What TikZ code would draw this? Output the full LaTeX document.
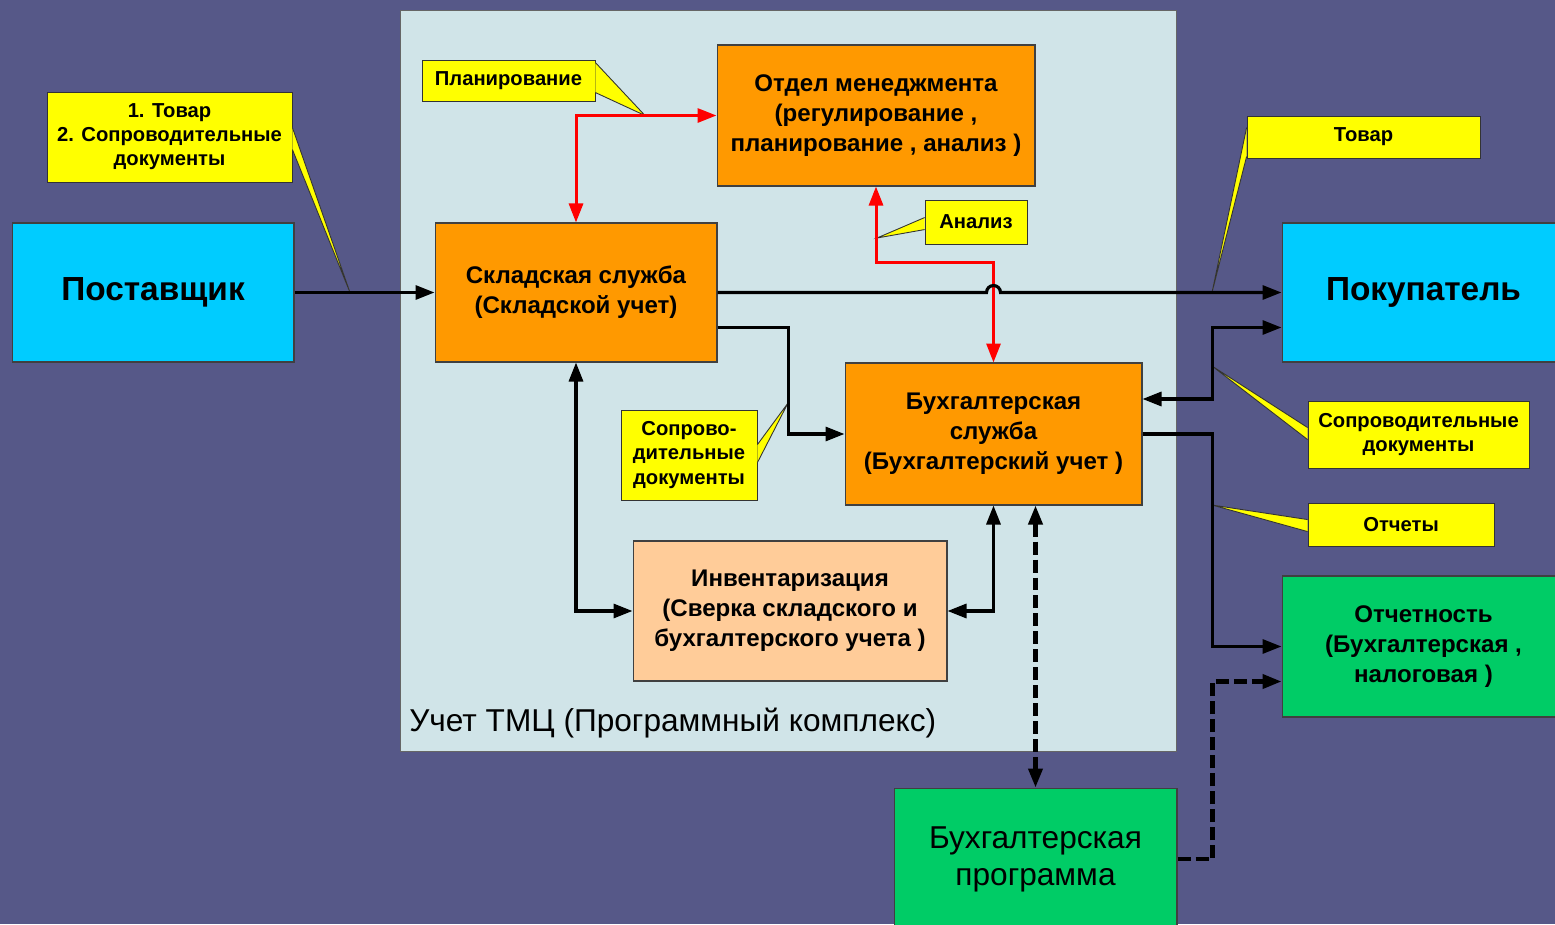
\documentclass[tikz,border=0pt]{standalone}
\usepackage{fontspec}
\setmainfont{Liberation Sans}
\usetikzlibrary{arrows.meta}

\definecolor{slideblue}{RGB}{86,88,136}
\definecolor{panelblue}{RGB}{208,228,232}
\definecolor{boxcyan}{RGB}{0,204,255}
\definecolor{boxorange}{RGB}{255,153,0}
\definecolor{boxpeach}{RGB}{255,204,153}
\definecolor{boxgreen}{RGB}{0,204,102}
\definecolor{noteyellow}{RGB}{255,255,0}
\definecolor{linkred}{RGB}{255,0,0}

\begin{document}
\begin{tikzpicture}[x=0.02cm,y=0.02cm,
    >={Triangle[length=0.38cm,width=0.28cm]},
    box/.style={draw=black!75,line width=0.6pt,align=center,inner sep=0pt,
      font=\bfseries\fontsize{13.7}{17}\selectfont},
    bigbox/.style={box,font=\bfseries\fontsize{19}{22}\selectfont},
    progbox/.style={box,font=\fontsize{18}{21}\selectfont},
    note/.style={draw=black!80,fill=noteyellow,line width=0.5pt,align=center,inner sep=0pt,
      font=\bfseries\fontsize{11.5}{13.7}\selectfont},
    wedge/.style={fill=noteyellow,draw=black!80,line width=0.5pt},
    flow/.style={line width=1.8pt},
    redflow/.style={line width=1.7pt,draw=linkred},
    dashflow/.style={line width=2.3pt,dash pattern=on 0.26cm off 0.1cm}]

        % Slide background and program panel
        \fill[slideblue] (0,0) rectangle (1555,-924);
        \useasboundingbox (0,0) rectangle (1555,-924);
        \node[draw=black!60,fill=panelblue,line width=0.6pt,minimum width=15.54cm,minimum height=14.84cm,inner sep=0pt] (panel) at (788.5,-381) {};
        \node[anchor=base west,inner sep=0pt,font=\fontsize{18}{21}\selectfont] (uchet) at (409,-731) {Учет ТМЦ (Программный комплекс)};

        % Main boxes
        \node[bigbox,fill=boxcyan,minimum width=5.64cm,minimum height=2.78cm] (post) at (153,-292.5) {Поставщик};
        \node[bigbox,fill=boxcyan,minimum width=5.66cm,minimum height=2.78cm] (pok) at (1423.5,-292.5) {Покупатель};
        \node[box,fill=boxorange,minimum width=5.64cm,minimum height=2.78cm] (sklad) at (576,-292.5) {Складская служба\\(Складской учет)};
        \node[box,fill=boxorange,minimum width=6.36cm,minimum height=2.82cm] (otdel) at (876,-115.5) {Отдел менеджмента\\(регулирование ,\\планирование , анализ )};
        \node[box,fill=boxorange,minimum width=5.94cm,minimum height=2.84cm] (buh) at (993.5,-434) {Бухгалтерская\\служба\\(Бухгалтерский учет )};
        \node[box,fill=boxpeach,minimum width=6.28cm,minimum height=2.8cm] (inv) at (790,-611) {Инвентаризация\\(Сверка складского и\\бухгалтерского учета )};
        \node[box,fill=boxgreen,minimum width=5.66cm,minimum height=2.82cm] (otch) at (1423.5,-646.5) {Отчетность\\(Бухгалтерская ,\\налоговая )};
        \node[progbox,fill=boxgreen,minimum width=5.66cm,minimum height=2.84cm] (prog) at (1035.5,-859) {Бухгалтерская\\программа};

        % Yellow notes
        \node[note,minimum width=4.9cm,minimum height=1.8cm] (tovar1) at (169.5,-137) {1. Товар\\2. Сопроводительные\\документы};
        \node[note,minimum width=3.46cm,minimum height=0.82cm] (plan) at (508.5,-80.5) {Планирование};
        \node[note,minimum width=2.04cm,minimum height=0.88cm] (analiz) at (976,-222) {Анализ};
        \node[note,minimum width=4.66cm,minimum height=0.84cm] (tovar2) at (1363.5,-137) {Товар};
        \node[note,minimum width=2.72cm,minimum height=1.8cm] (sopr1) at (689,-455) {Сопрово-\\дительные\\документы};
        \node[note,minimum width=4.42cm,minimum height=1.34cm] (sopr2) at (1418.5,-434.5) {Сопроводительные\\документы};
        \node[note,minimum width=3.72cm,minimum height=0.86cm] (otchety) at (1401,-524.5) {Отчеты};

        % Pointer tips of the notes
        \coordinate (tip1) at (350,-292.5);
        \coordinate (tip2) at (645,-115.5);
        \coordinate (tip3) at (877,-238);
        \coordinate (tip4) at (1212,-292.5);
        \coordinate (tip5) at (788,-403);
        \coordinate (tip6) at (1212,-366);
        \coordinate (tip7) at (1212,-505);

        % Note pointers
        \filldraw[wedge] ([yshift=-0.72cm]tovar1.north east) -- (tip1) -- ([yshift=-1.16cm]tovar1.north east);
        \filldraw[wedge] ([yshift=-0.06cm]plan.north east) -- (tip2) -- ([yshift=-0.66cm]plan.north east);
        \filldraw[wedge] ([yshift=-0.36cm]analiz.north west) -- (tip3) -- ([yshift=-0.6cm]analiz.north west);
        \filldraw[wedge] ([yshift=-0.24cm]tovar2.north west) -- (tip4) -- ([yshift=-0.82cm]tovar2.north west);
        \filldraw[wedge] ([yshift=-0.7cm]sopr1.north east) -- (tip5) -- ([yshift=-1.06cm]sopr1.north east);
        \filldraw[wedge] ([yshift=-0.54cm]sopr2.north west) -- (tip6) -- ([yshift=-0.78cm]sopr2.north west);
        \filldraw[wedge] ([yshift=-0.34cm]otchety.north west) -- (tip7) -- ([yshift=-0.58cm]otchety.north west);

        % Red links of the management department
        \draw[redflow,<->] (otdel.west) -| (sklad.north);
        \draw[redflow,<->] (otdel.south) -- ++(0,-76) -| (buh.north);

        % Goods flow with a hop over the red link
        \draw[flow,->] (post.east) -- (sklad.west);
        \coordinate (hop) at (buh.north |- sklad.east);
        \draw[flow,->] (sklad.east) -- ([xshift=-0.14cm]hop) arc[start angle=180,end angle=0,radius=0.14cm] -- (pok.west);

        % Documents and inventory links
        \draw[flow,->] ([yshift=-0.7cm]sklad.east) -- ++(71,0) |- (buh.west);
        \draw[flow,<->] (sklad.south) |- (inv.west);
        \draw[flow,<->] (inv.east) -| (buh.south);
        \draw[flow,<->] ([yshift=0.7cm]buh.east) -- ++(70,0) |- ([yshift=-0.7cm]pok.west);
        \draw[flow,->] (buh.east) -- ++(70,0) |- (otch.west);

        % Accounting program links
        \draw[flow,dashflow,<->] (prog.north |- buh.south) -- (prog.north);
        \draw[flow,dashflow,->] (prog.east) -- ++(35,0) |- ([yshift=-0.7cm]otch.west);
    \end{tikzpicture}
\end{document}
